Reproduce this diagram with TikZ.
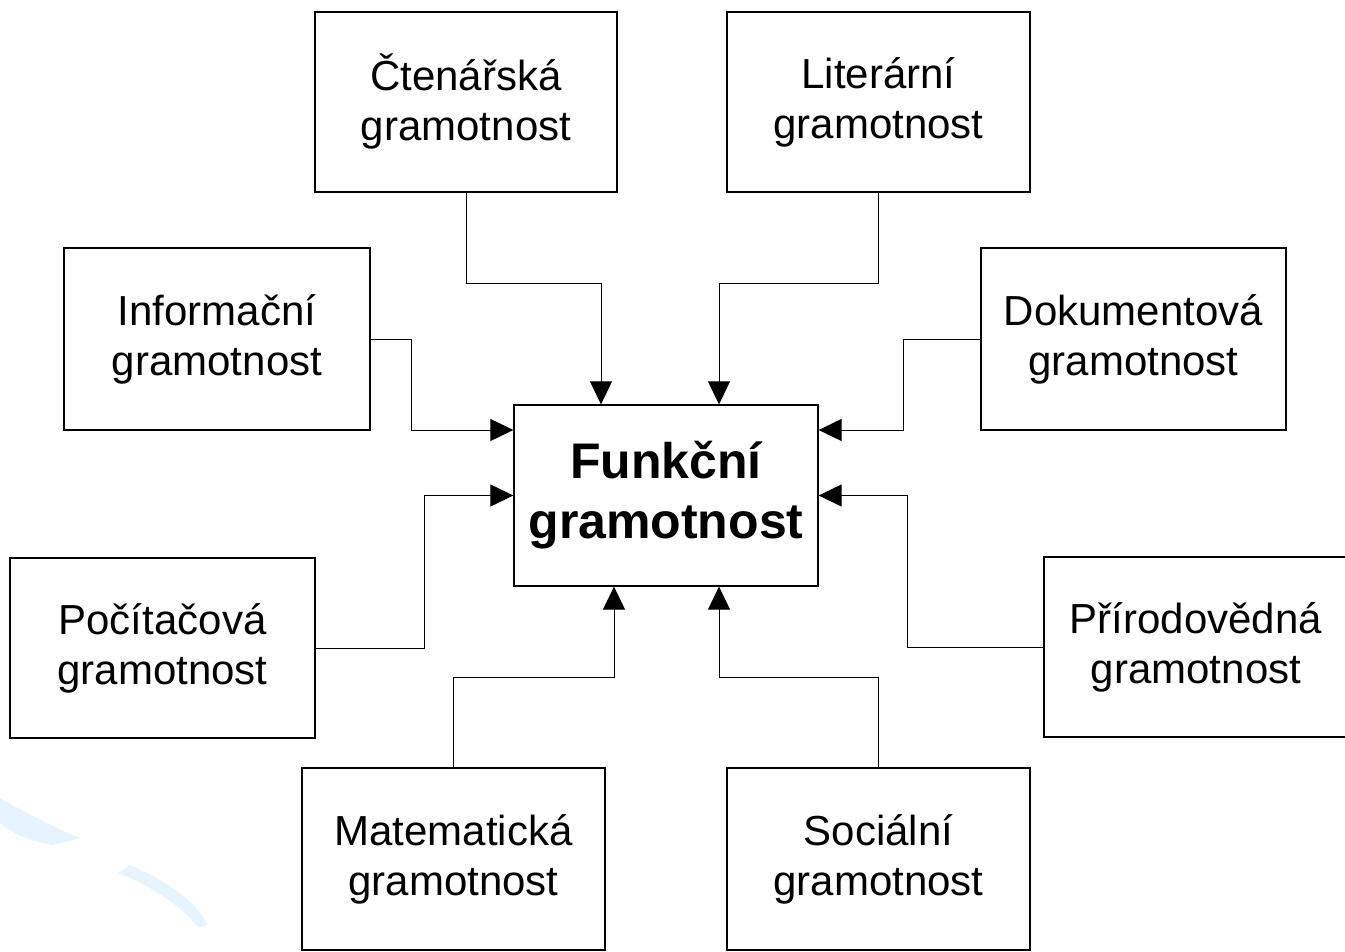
\documentclass[tikz,border=0pt]{standalone}
\usepackage{fontspec}
\setmainfont{Liberation Sans}
\usetikzlibrary{arrows.meta}
\definecolor{swoosh}{RGB}{232,244,253}
\tikzset{
  gbox/.style={draw=black, line width=1.3pt, fill=white, inner sep=0pt, align=center,
    font=\fontsize{42}{50}\selectfont},
  mainbox/.style={gbox, font=\fontsize{50}{60}\selectfont\bfseries},
  arr/.style={draw=black, line width=1pt, -{Triangle[length=23pt,width=22pt]}},
  conn/.style={draw=black, line width=1pt}
}
\begin{document}
\begin{tikzpicture}[x=1pt,y=-1pt]
\useasboundingbox (0,0) rectangle (1345,952);
\clip (0,0) rectangle (1345,952);
\fill[swoosh] (0,798) .. controls (30,815) and (60,830) .. (80,838) -- (53,845) .. controls (30,842) and (10,832) .. (0,823) -- cycle;
\fill[swoosh] (130,865) .. controls (165,880) and (195,900) .. (208,925) -- (198,927) .. controls (180,905) and (150,885) .. (118,873) -- cycle;
\node[mainbox, minimum width=304pt, minimum height=181pt] (funk) at (666,495.5) {Funkční\\gramotnost};
\node[gbox, minimum width=302pt, minimum height=180pt] (cten) at (466,102) {Čtenářská\\gramotnost};
\node[gbox, minimum width=303pt, minimum height=180pt] (lit) at (878.5,102) {Literární\\gramotnost};
\node[gbox, minimum width=306pt, minimum height=182pt] (inf) at (217,339) {Informační\\gramotnost};
\node[gbox, minimum width=305pt, minimum height=182pt] (dok) at (1133.5,339) {Dokumentová\\gramotnost};
\node[gbox, minimum width=305pt, minimum height=180pt] (poc) at (162.5,648) {Počítačová\\gramotnost};
\node[gbox, minimum width=304pt, minimum height=180pt] (pri) at (1196,647) {Přírodovědná\\gramotnost};
\node[gbox, minimum width=303pt, minimum height=182pt] (mat) at (453.5,859) {Matematická\\gramotnost};
\node[gbox, minimum width=303pt, minimum height=182pt] (soc) at (878.5,859) {Sociální\\gramotnost};
\draw[arr] (cten.south) -- ++(0,91) -| ([xshift=-65pt]funk.north);
\draw[arr] (lit.south) -- ++(0,91) -| ([xshift=53pt]funk.north);
\draw[arr] (inf.east) -- ++(41,0) |- ([yshift=65.5pt]funk.west);
\draw[arr] (dok.west) -- ++(-77,0) |- ([yshift=65.5pt]funk.east);
\draw[arr] (poc.east) -- ++(109,0) |- (funk.west);
\draw[arr] (pri.west) -- ++(-136,0) |- (funk.east);
\draw[arr] (mat.north) -- ++(0,-90) -| ([xshift=-52pt]funk.south);
\draw[arr] (soc.north) -- ++(0,-90) -| ([xshift=53pt]funk.south);
\end{tikzpicture}
\end{document}
